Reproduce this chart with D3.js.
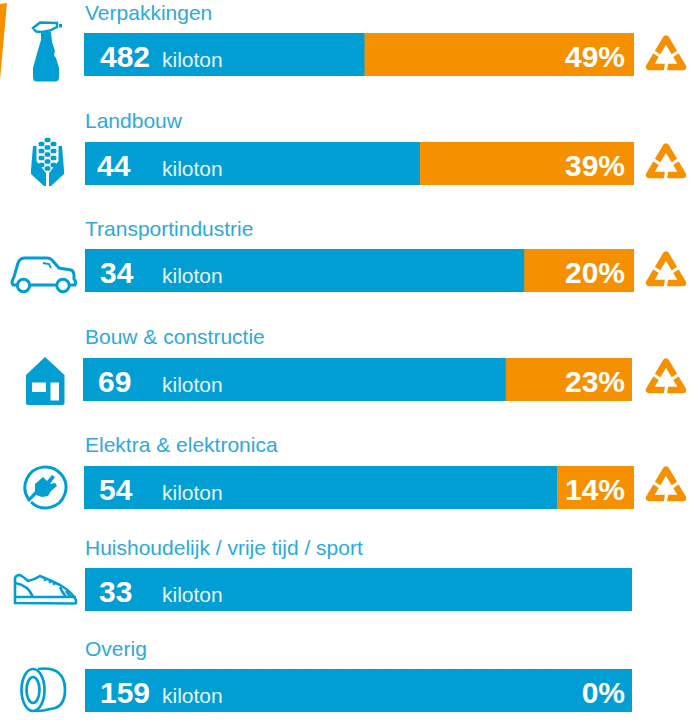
<!DOCTYPE html>
<html>
  <head>
    <title>Kunststof per sector</title>
    <script src="https://d3js.org/d3.v7.min.js"></script>
    <style>
      body { margin: 0; background-color: white; }
      svg { display: block; }
      .label { font-family: "Liberation Sans", sans-serif; font-size: 21px; fill: #2ea9d9; }
      .unit { font-family: "Liberation Sans", sans-serif; font-size: 21px; fill: #e6f5fb; }
      .num { font-family: "Liberation Sans", sans-serif; font-weight: bold; font-size: 30px; fill: white; }
    </style>
  </head>
  <body>
    <svg id="canvas" width="696" height="720"></svg>

    <script>
      const categories = ['Verpakkingen', 'Landbouw', 'Transportindustrie', 'Bouw & constructie',
        'Elektra & elektronica', 'Huishoudelijk / vrije tijd / sport', 'Overig']
      const kiloton = [482, 44, 34, 69, 54, 33, 159]
      // recycled share in percent, null = not given
      const recycled = [49, 39, 20, 23, 14, null, 0]

      // layout of the rows, these are not evenly spaced in the picture
      const rowTop = [33, 142, 249, 358, 466, 568, 669]
      const rowLeft = [84, 85, 85, 83, 84, 85, 85]
      const rowRight = [634, 634, 634, 632, 634, 632, 632]
      const numLeft = [100, 97, 100, 98, 99, 99, 100]
      const labelBase = [20, 128, 236, 344, 452, 555, 656]
      const recycleTop = [33, 141, 249, 356, 464]
      const barHeight = 43

      const blue = '#009ed3'
      const orange = '#f59100'

      const svg = d3.select('#canvas')

      // corner of the previous panel
      svg.append('path').attr('d', 'M0,4 L7,3 L0,80 Z').attr('fill', orange)

      const rows = categories.map((name, i) => ({
        name, i, value: kiloton[i], share: recycled[i]
      }))

      const row = svg.selectAll('g.row').data(rows).enter()
        .append('g')
        .classed('row', true)
        .attr('transform', d => `translate(${rowLeft[d.i]}, ${rowTop[d.i]})`)

      const shareX = d => d3.scaleLinear().domain([0, 100]).range([rowRight[d.i] - rowLeft[d.i], 0])(d.share || 0)

      row.append('rect')
        .attr('width', d => rowRight[d.i] - rowLeft[d.i])
        .attr('height', barHeight)
        .attr('fill', blue)

      row.filter(d => d.share > 0).append('rect')
        .attr('x', shareX)
        .attr('width', d => rowRight[d.i] - rowLeft[d.i] - shareX(d))
        .attr('height', barHeight)
        .attr('fill', orange)

      row.append('text')
        .classed('label', true)
        .attr('x', d => 85 - rowLeft[d.i])
        .attr('y', d => labelBase[d.i] - rowTop[d.i])
        .text(d => d.name)

      row.append('text')
        .classed('num', true)
        .attr('x', d => numLeft[d.i] - rowLeft[d.i])
        .attr('y', 34)
        .text(d => d.value)

      row.append('text')
        .classed('unit', true)
        .attr('x', d => 162 - rowLeft[d.i])
        .attr('y', 34)
        .text('kiloton')

      row.filter(d => d.share !== null).append('text')
        .classed('num', true)
        .attr('x', d => 625 - rowLeft[d.i])
        .attr('y', 34)
        .attr('text-anchor', 'end')
        .text(d => d.share + '%')

      // recycle symbol: a thick triangle cut into three by white gaps
      const recycle = svg.selectAll('g.recycle').data(rows.filter(d => d.share > 0)).enter()
        .append('g')
        .classed('recycle', true)
        .attr('transform', d => `translate(645, ${recycleTop[d.i]})`)
      recycle.append('path')
        .attr('d', 'M21,5.5 L4,34 L38,34 Z')
        .attr('fill', 'none')
        .attr('stroke', orange)
        .attr('stroke-width', 6.4)
        .attr('stroke-linejoin', 'round')
      recycle.append('path')
        .attr('d', 'M6,17 L15,23 M36,17 L27,23 M22,28 L20,40')
        .attr('fill', 'none')
        .attr('stroke', 'white')
        .attr('stroke-width', 3.2)

      // sector icons, drawn in page pixels
      const icons = svg.append('g').attr('fill', blue)

      // spray bottle
      icons.append('path')
        .attr('d', 'M33,28 L40,22.5 L57,23 L57,27 L50,30.5 L42,32 L36,31.5 Z')
        .attr('fill', 'none').attr('stroke', blue).attr('stroke-width', 2.4)
      icons.append('rect').attr('x', 59).attr('y', 24).attr('width', 3).attr('height', 3.5)
      icons.append('path')
        .attr('d', 'M41,32 L51,32 L52,42 L55,51 L54,55 L56,58 L59,68 L59,77 Q59,81.5 55,81.5 L37,81.5 Q33,81.5 33,77 L33,68 L38,50 L41,40 Z')

      // corn
      const kernels = [[47.5, 140], [41.5, 144], [53.5, 144], [47.5, 147.5], [41.5, 151], [53.5, 151], [47.5, 154.5],
        [41.5, 158], [53.5, 158], [47.5, 161.5], [41.5, 165], [53.5, 165], [47.5, 168.5]]
      icons.selectAll('rect.kernel').data(kernels).enter().append('rect')
        .classed('kernel', true)
        .attr('x', d => d[0] - 2.9).attr('y', d => d[1] - 2.3)
        .attr('width', 5.8).attr('height', 4.6).attr('rx', 1.6)
      icons.append('path').attr('d', 'M33,146 L36.5,146 L36.5,161 L46,173 L46,186 L44,186 L31,174 L31,170 Z')
      icons.append('path').attr('d', 'M62,146 L58.5,146 L58.5,161 L49,173 L49,186 L51,186 L64,174 L64,170 Z')

      // car
      const car = icons.append('g').attr('fill', 'none').attr('stroke', blue).attr('stroke-width', 3)
      car.append('path').attr('d', 'M17,285 L13,285 Q11,282 13,279 L14,277 L18,263 Q20,258 25,258 L47,258 Q50,258 52,260 L59,268 L71,270 Q74,271 74,276 L74,279 Q77,282 75,285 L70,285 M56,285 L30,285')
      car.append('circle').attr('cx', 23.5).attr('cy', 285.5).attr('r', 6.2)
      car.append('circle').attr('cx', 63).attr('cy', 285.5).attr('r', 6.2)
      car.append('path').attr('d', 'M43,263 L49,264 L51,268').attr('stroke-width', 1.8)

      // house
      icons.append('path').attr('d', 'M45,357 L64.5,375 L64.5,403 Q64.5,405 62.5,405 L28,405 Q26,405 26,403 L26,375 Z')
      icons.append('rect').attr('x', 32).attr('y', 382.5).attr('width', 14).attr('height', 9.5).attr('fill', 'white')
      icons.append('rect').attr('x', 50.5).attr('y', 382.5).attr('width', 8.5).attr('height', 18).attr('fill', 'white')

      // plug
      icons.append('path')
        .attr('d', 'M28.5,499 A20.5,20.5 0 1 1 31,502')
        .attr('fill', 'none').attr('stroke', blue).attr('stroke-width', 3)
      icons.append('path').attr('d', 'M27,500 L35,491 L35,484 L43,477 L47,481 L52,475 L55,477 L50,484 L55,483 L57,486 L51,491 L48,496 L42,497 L36,495 L29,502 Z')

      // shoe
      const shoe = icons.append('g').attr('fill', 'none').attr('stroke', blue).attr('stroke-width', 2.6)
      shoe.append('path').attr('d', 'M15,603 L15,578 Q16,575 20,575 Q25,578 28,581 Q34,580 40,576 Q50,580 60,585 Q72,592 76,600 L76,603 Q76,603.5 75,603.5 Z')
      shoe.append('path').attr('d', 'M15,597 L76,597 M15,583 Q28,585 33,597 M60,587 Q62,592 66,597 M66,591 Q68,594 71,597')
      icons.selectAll('circle.dot').data([[45, 580], [50, 582], [54, 584]]).enter().append('circle')
        .classed('dot', true).attr('cx', d => d[0]).attr('cy', d => d[1]).attr('r', 1.3)

      // tyre
      const tyre = icons.append('g').attr('fill', 'none').attr('stroke', blue).attr('stroke-width', 2.7)
      tyre.append('ellipse').attr('cx', 33).attr('cy', 690).attr('rx', 11.5).attr('ry', 21)
      tyre.append('ellipse').attr('cx', 33).attr('cy', 690).attr('rx', 6.5).attr('ry', 13)
      tyre.append('path').attr('d', 'M38,669 Q44,668 50,669 Q65,672 65,690 Q65,708 50,709 Q44,711 36,711')
    </script>
  </body>
</html>
